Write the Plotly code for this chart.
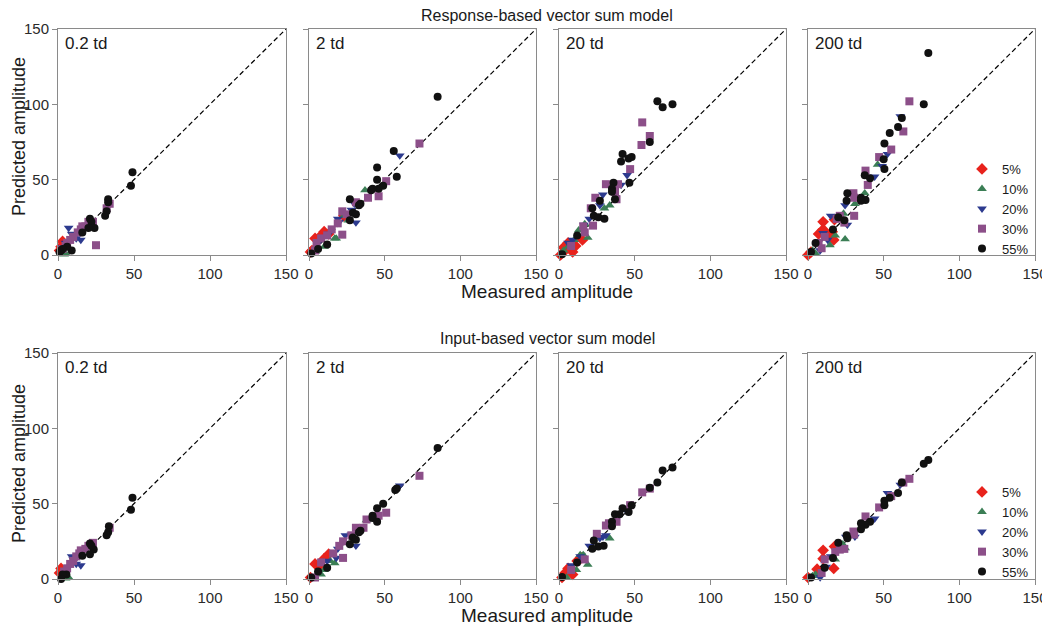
import plotly.graph_objects as go

# ---------------- DATA (measured, predicted) ----------------
series_names = ["5%", "10%", "20%", "30%", "55%"]
panel_labels = ["0.2 td", "2 td", "20 td", "200 td"]
row_titles = ["Response-based vector sum model", "Input-based vector sum model"]
tick_vals = [0, 50, 100, 150]
tick_text = ["0", "50", "100", "150"]

# Response-based, 0.2 td
r1_p5 = [(3, 9), (2, 5.5), (1, 3), (4, 7)]
r1_p10 = [(5, 1), (4, 0.5), (2, 1)]
r1_p20 = [(7, 18), (9, 14), (15, 10), (12, 11), (5, 8), (3, 5)]
r1_p30 = [(34, 34), (32, 31), (23, 22), (22, 21), (18, 19), (15, 17), (13, 15), (10, 12),
          (8, 10), (6, 8), (5, 6), (3, 4), (25, 6.5), (16, 19), (20, 22)]
r1_p55 = [(49, 55), (48, 46), (33, 37), (33, 35), (32, 29), (31, 26), (21, 24), (22, 22),
          (24, 18), (20, 18), (16, 15), (9, 3), (6, 5.5), (2, 3), (3, 4), (1, 2)]

# Response-based, 2 td
r2_p5 = [(4, 11), (10, 15.5), (23, 26), (2, 3), (1, 2), (7, 12), (13, 14)]
r2_p10 = [(37, 43), (17, 11), (10, 5.5), (4, 2), (26, 23), (18, 11), (23, 26)]
r2_p20 = [(60, 66), (31, 21.5), (30, 34), (19, 24), (20, 22), (13, 14), (6, 8), (28, 30)]
r2_p30 = [(73, 74), (51, 49), (46, 39), (39, 38), (31, 35), (22, 29), (22, 13.5), (19, 21),
          (15, 17), (8, 11), (5, 8), (4, 3), (25, 27), (12, 13)]
r2_p55 = [(85, 105), (56, 69), (58, 52), (45, 58), (45, 50), (49, 46), (46, 44), (42, 44),
          (41, 43), (27, 37), (34, 34), (33, 33), (29, 28), (31, 27), (27, 23), (12, 7),
          (6, 4), (1.5, 1)]

# Response-based, 20 td
r3_p5 = [(15.5, 10), (9, 2), (6, 8), (3, 5), (4, 3), (11, 6), (1, 0)]
r3_p10 = [(33.5, 33), (30, 31), (19, 11.5), (17, 20.5), (13, 16.5), (10, 10), (6, 5.5), (3, 3)]
r3_p20 = [(45, 53), (41, 46.5), (29, 40), (27, 33), (20, 24), (16.5, 20), (9, 10), (6, 8)]
r3_p30 = [(55, 88), (60, 79), (54.5, 73), (47, 57), (31, 47), (39, 47), (37, 42), (38, 37),
          (24, 38), (21, 31), (22.5, 19.5), (17, 15), (16, 19), (8, 6)]
r3_p55 = [(65, 102), (68.5, 98), (75, 100), (60, 75), (42, 67), (41, 62), (46, 64), (48, 65),
          (36, 48), (35, 44), (35, 42), (37, 37), (46.5, 48), (27, 36), (22, 31), (23, 26),
          (26, 25), (30, 24), (12, 13), (2, 0.5)]

# Response-based, 200 td
r4_p5 = [(10, 22), (10, 17), (17.5, 23.5), (16, 15.5), (17, 10), (7, 14), (0, 0), (2, 2), (13, 13)]
r4_p10 = [(46, 60), (37.5, 41), (31, 34), (23.5, 27.5), (24.5, 10.5), (14.5, 6.5), (18, 13),
          (5, 1), (3, 3)]
r4_p20 = [(61, 92), (52.5, 67), (49, 59), (44, 52), (40.5, 51), (24.5, 33), (15, 26), (26, 20),
          (10, 14.5), (8, 3), (13, 10)]
r4_p30 = [(67, 102), (63, 82), (55, 70), (47, 65), (38, 56), (39.5, 46.5), (30, 41), (30.5, 38),
          (30.5, 26), (21, 26), (19, 24), (24, 21.5), (11, 12), (9, 4.5), (7, 8)]
r4_p55 = [(79.5, 134), (76.5, 100), (62, 91), (59.5, 85), (54, 81), (50.5, 74), (50, 63.5),
          (50.5, 57), (37.5, 53), (41, 51), (26, 41), (25.5, 36), (35, 38), (38, 36.5), (35, 36),
          (24, 23), (20, 25), (16.5, 17), (5, 8), (2, 2)]

# Input-based, 0.2 td
i1_p5 = [(2, 7), (1, 4), (3, 5)]
i1_p10 = [(7, 1), (5, 0.5), (3, 2)]
i1_p20 = [(15, 9), (10, 13), (12, 10), (7, 8), (9, 15)]
i1_p30 = [(34, 34), (23, 24), (20, 22), (15, 19), (12, 15), (10, 12), (8, 10), (6, 7), (4, 5),
          (18, 20), (14, 17)]
i1_p55 = [(49, 54), (48, 46), (33.5, 35), (33, 31), (32, 29), (21, 23.5), (23.5, 19.5), (21, 16.5),
          (16, 15.5), (22, 22), (5.5, 3), (3, 3), (2, 0)]

# Input-based, 2 td
i2_p5 = [(13, 16.5), (10, 13.5), (4, 10), (1, 1), (7, 9)]
i2_p10 = [(38, 39), (17, 10.5), (8, 3), (14, 12), (10, 6)]
i2_p20 = [(60, 62), (24, 29), (31, 22), (19, 20), (18, 14), (12, 12), (28, 29.5)]
i2_p30 = [(73, 68.5), (51, 44), (46, 42), (38, 39.5), (36, 34), (31, 34), (22.5, 25), (22.5, 14),
          (16, 17), (8, 11), (4, 1), (20, 22), (28, 29)]
i2_p55 = [(85, 87), (57, 59), (58, 60), (49, 50), (45, 47), (42, 42), (42, 40.5), (45, 38),
          (34, 32), (33, 31), (29, 27.5), (31, 26), (27, 23), (12, 7.5), (6, 5), (1.5, 1)]

# Input-based, 20 td
i3_p5 = [(15, 14), (9, 3), (6, 7), (2, 1), (12, 12), (4, 4)]
i3_p10 = [(33.5, 27), (19, 9.5), (14, 16), (11.5, 6), (5, 1), (16, 16)]
i3_p20 = [(29, 28), (31, 29), (44, 46), (20, 22), (14, 15), (8, 9), (27, 27)]
i3_p30 = [(55, 57.5), (60, 60), (47, 49), (31, 35.5), (25, 30), (38, 38), (17, 13), (8, 6), (33, 37)]
i3_p55 = [(75, 74), (68.5, 72), (65, 64), (60, 60.5), (48, 49), (46, 44.5), (42, 47), (37, 43),
          (40, 43), (35, 38), (35, 35), (23, 25.5), (26, 21.5), (29.5, 22), (22, 20), (12, 11),
          (2, 1.3)]

# Input-based, 200 td
i4_p5 = [(10, 19), (10, 13.5), (17.5, 21.5), (17, 7), (6, 6.5), (0, 1)]
i4_p10 = [(24.5, 20.5), (18, 13), (5, 3), (3, 2), (23, 23)]
i4_p20 = [(61, 62.5), (52.5, 57), (44, 40), (25, 28), (31, 28), (15, 15), (12, 8), (8, 1)]
i4_p30 = [(67, 66.5), (63, 64), (55, 55), (47, 47.5), (38, 41.5), (30, 31.5), (30.5, 29.5),
          (21, 19.5), (24, 20), (11, 13), (9, 4), (18, 18)]
i4_p55 = [(79.5, 79), (76.5, 76.5), (62, 64), (59.5, 57), (54, 54), (50.5, 52), (50.5, 49),
          (41, 38), (38, 36), (35, 37), (35, 33), (25.5, 29), (26, 27), (20, 24), (16.5, 14),
          (11, 7.5), (2, 1)]

identity_line = [0, 150]

panels = [
    [[r1_p5, r1_p10, r1_p20, r1_p30, r1_p55],
     [r2_p5, r2_p10, r2_p20, r2_p30, r2_p55],
     [r3_p5, r3_p10, r3_p20, r3_p30, r3_p55],
     [r4_p5, r4_p10, r4_p20, r4_p30, r4_p55]],
    [[i1_p5, i1_p10, i1_p20, i1_p30, i1_p55],
     [i2_p5, i2_p10, i2_p20, i2_p30, i2_p55],
     [i3_p5, i3_p10, i3_p20, i3_p30, i3_p55],
     [i4_p5, i4_p10, i4_p20, i4_p30, i4_p55]],
]

# ---------------- STYLE ----------------
colors = ["#e8221c", "#3b7e55", "#2c3a8e", "#8c4f89", "#111111"]
symbols = ["diamond", "triangle-up", "triangle-down", "square", "circle"]
sizes = [9, 8.5, 8.5, 8, 8]

# page has an 8px body margin: build the figure in page coords minus that offset
OFF = 8
W, H = 1050 - OFF, 636 - OFF
col_px = [(58, 286), (309, 536), (559, 786), (808, 1035)]
row_px = [(29, 255), (353, 579)]


def fx(px):
    return (px - OFF) / W


def fy(py):
    return 1 - (py - OFF) / H


FONT = "Liberation Sans, Arial, Helvetica, sans-serif"
AXCOL = "#8a8a8a"

fig = go.Figure()
layout = dict()
annotations = []

for r in range(2):
    for c in range(4):
        idx = r * 4 + c + 1
        xa = "x" if idx == 1 else f"x{idx}"
        ya = "y" if idx == 1 else f"y{idx}"
        xkey = "xaxis" if idx == 1 else f"xaxis{idx}"
        ykey = "yaxis" if idx == 1 else f"yaxis{idx}"
        x0, x1 = col_px[c]
        y0, y1 = row_px[r]
        common = dict(range=[0, 150], tickvals=tick_vals, ticktext=tick_text,
                      showline=True, mirror=True, linecolor=AXCOL, linewidth=1,
                      ticks="outside", ticklen=5, tickcolor=AXCOL, tickwidth=1,
                      showgrid=False, zeroline=False, automargin=False, fixedrange=True,
                      tickfont=dict(family=FONT, size=15, color="#2a2a2a"))
        layout[xkey] = dict(common, domain=[fx(x0), fx(x1)], anchor=ya)
        layout[ykey] = dict(common, domain=[fy(y1), fy(y0)], anchor=xa,
                            showticklabels=(c == 0))
        # identity line
        fig.add_trace(go.Scatter(x=identity_line, y=identity_line, mode="lines",
                                 line=dict(color="black", width=1.2, dash="5px,3px"),
                                 xaxis=xa, yaxis=ya, showlegend=False, hoverinfo="skip"))
        for s in range(5):
            pts = panels[r][c][s]
            fig.add_trace(go.Scatter(
                x=[p[0] for p in pts], y=[p[1] for p in pts], mode="markers",
                marker=dict(color=colors[s], symbol=symbols[s], size=sizes[s], line=dict(width=0)),
                name=series_names[s], xaxis=xa, yaxis=ya,
                showlegend=(c == 3), legend=("legend" if r == 0 else "legend2"),
                cliponaxis=False))
        annotations.append(dict(text=panel_labels[c], xref=f"{xa} domain", yref=f"{ya} domain",
                                x=0.022, y=0.938, xanchor="left", yanchor="middle", showarrow=False,
                                font=dict(family=FONT, size=17, color="#1a1a1a")))

title_y = [15, 338]
measured_y = [291, 615]
predicted_y = [137, 464]
for r in range(2):
    annotations.append(dict(text=row_titles[r], xref="paper", yref="paper",
                            x=fx(547), y=fy(title_y[r]), xanchor="center", yanchor="middle",
                            showarrow=False, font=dict(family=FONT, size=16, color="#1a1a1a")))
    annotations.append(dict(text="Measured amplitude", xref="paper", yref="paper",
                            x=fx(547), y=fy(measured_y[r]), xanchor="center", yanchor="middle",
                            showarrow=False, font=dict(family=FONT, size=19, color="#1a1a1a")))
    annotations.append(dict(text="Predicted amplitude", xref="paper", yref="paper",
                            x=fx(7), y=fy(predicted_y[r]), xanchor="left",
                            yanchor="middle", textangle=-90, showarrow=False,
                            font=dict(family=FONT, size=18, color="#1a1a1a")))

legend_common = dict(xanchor="left", yanchor="top", bgcolor="rgba(0,0,0,0)",
                     font=dict(family=FONT, size=13, color="#1a1a1a"),
                     tracegroupgap=0, itemwidth=30)
layout["legend"] = dict(legend_common, x=fx(962), y=fy(154))
layout["legend2"] = dict(legend_common, x=fx(962), y=fy(477))

fig.update_layout(**layout)
fig.update_layout(template="none", width=W, height=H, margin=dict(l=0, r=0, t=0, b=0, pad=0),
                  paper_bgcolor="white", plot_bgcolor="white",
                  annotations=annotations, font=dict(family=FONT))

fig.write_html("out.html")
